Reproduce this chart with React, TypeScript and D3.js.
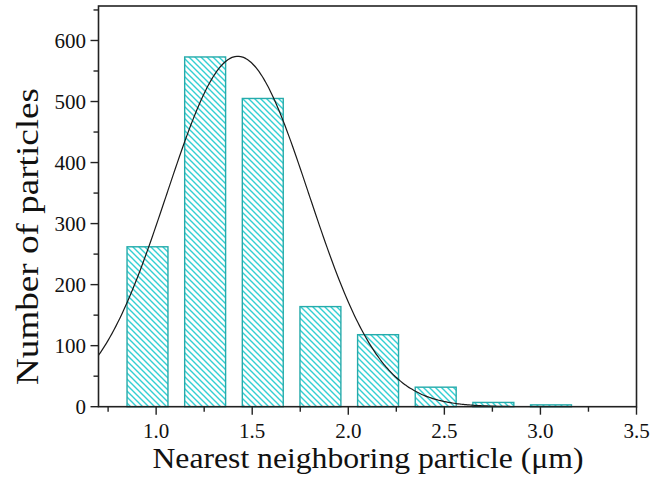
import React from "react";
import * as d3 from "d3";

const binCenters = [0.955, 1.255, 1.555, 1.855, 2.155, 2.455, 2.755, 3.055];
const counts = [262, 573, 505, 164, 118, 32, 7, 3];
const xTicks = [1.0, 1.5, 2.0, 2.5, 3.0, 3.5];
const yTicks = [0, 100, 200, 300, 400, 500, 600];
const fitMu = 1.425;
const fitSigma = 0.37;
const fitAmp = 574;

const W = 666;
const H = 479;
const M = { left: 98.5, right: 636.5, top: 6, bottom: 406.7 };

export default function App() {
  const x = d3.scaleLinear().domain([0.7, 3.5]).range([M.left, M.right]);
  const y = d3.scaleLinear().domain([0, 656.5]).range([M.bottom, M.top]);
  const barW = x(0.7 + 0.213) - x(0.7);

  const xMinor = d3.range(0.75, 3.5001, 0.25);
  const yMinor = d3.range(0, 650.001, 50);

  const fitPts = d3.range(0.7, 3.5001, 0.01).map((v) => [
    v,
    fitAmp * Math.exp(-((v - fitMu) ** 2) / (2 * fitSigma * fitSigma)),
  ]);
  const line = d3
    .line<number[]>()
    .x((d) => x(d[0]))
    .y((d) => Math.min(y(d[1]), M.bottom))
    .curve(d3.curveMonotoneX);

  const font = "'Liberation Serif', 'Times New Roman', serif";
  const P = 6;

  return (
    <svg width={W} height={H} style={{ position: "absolute", left: 0, top: 0, background: "#fff" }}>
      <defs>
        <pattern id="hatch" patternUnits="userSpaceOnUse" width={P} height={P}>
          <path
            d={`M${-P},0 L${P},${2 * P} M0,${-P} L${2 * P},${P} M${-P},${-P} L${2 * P},${2 * P}`}
            stroke="#33cfd2"
            strokeWidth={1.4}
            fill="none"
          />
        </pattern>
        <clipPath id="plotclip">
          <rect x={M.left} y={M.top} width={M.right - M.left} height={M.bottom - M.top} />
        </clipPath>
      </defs>
      <rect x={0} y={0} width={W} height={H} fill="#fff" />
      {binCenters.map((c, i) => (
        <rect
          key={i}
          x={x(c) - barW / 2}
          y={y(counts[i])}
          width={barW}
          height={M.bottom - y(counts[i])}
          fill="url(#hatch)"
          stroke="#26abab"
          strokeWidth={1.4}
        />
      ))}
      <path d={line(fitPts as any) || ""} fill="none" stroke="#1a1a1a" strokeWidth={1.2} clipPath="url(#plotclip)" />
      <rect
        x={M.left}
        y={M.top}
        width={M.right - M.left}
        height={M.bottom - M.top}
        fill="none"
        stroke="#222"
        strokeWidth={1.6}
      />
      {xMinor.map((v, i) => {
        const isMajor = Math.abs(v * 2 - Math.round(v * 2)) < 1e-6;
        return (
          <line key={"xm" + i} x1={x(v)} x2={x(v)} y1={M.bottom} y2={M.bottom + (isMajor ? 8 : 5)} stroke="#222" strokeWidth={1.4} />
        );
      })}
      {yMinor.map((v, i) => {
        const isMajor = v % 100 === 0;
        return (
          <line key={"ym" + i} x1={M.left} x2={M.left - (isMajor ? 8 : 5)} y1={y(v)} y2={y(v)} stroke="#222" strokeWidth={1.4} />
        );
      })}
      {xTicks.map((v, i) => (
        <text key={"xt" + i} x={x(v)} y={438} textAnchor="middle" fontFamily={font} fontSize={21} fill="#111">
          {v.toFixed(1)}
        </text>
      ))}
      {yTicks.map((v, i) => (
        <text key={"yt" + i} x={86} y={y(v)} dy="0.35em" textAnchor="end" fontFamily={font} fontSize={21} fill="#111">
          {v}
        </text>
      ))}
      <text
        x={368}
        y={468}
        textAnchor="middle"
        fontFamily={font}
        fontSize={30}
        textLength={431}
        lengthAdjust="spacingAndGlyphs"
        fill="#111"
      >
        Nearest neighboring particle (μm)
      </text>
      <text
        transform={`translate(38,236.5) rotate(-90)`}
        textAnchor="middle"
        fontFamily={font}
        fontSize={32}
        textLength={297}
        lengthAdjust="spacingAndGlyphs"
        fill="#111"
      >
        Number of particles
      </text>
    </svg>
  );
}
